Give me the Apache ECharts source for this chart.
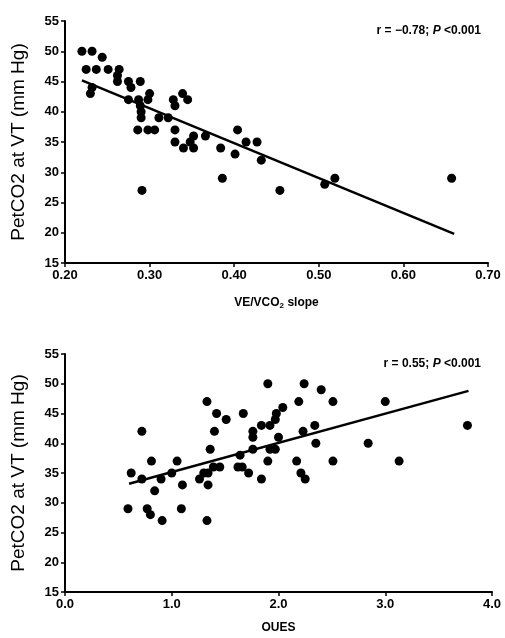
<!DOCTYPE html>
<html>
<head>
<meta charset="utf-8">
<script src="https://cdn.jsdelivr.net/npm/echarts@6/dist/echarts.min.js"></script>
<style>
html, body { margin: 0; background: #fff; }
#main { width: 505px; height: 638px; }
</style>
</head>
<body>
<div id="main"></div>
<script>
// top panel: PetCO2 at VT vs VE/VCO2 slope
var slopePts = [
    [0.220, 50], [0.232, 50], [0.244, 49], [0.225, 47], [0.237, 47], [0.251, 47],
    [0.264, 47], [0.262, 46], [0.262, 45], [0.275, 45], [0.289, 45], [0.278, 44],
    [0.232, 44], [0.230, 43], [0.275, 42], [0.287, 42], [0.300, 43], [0.298, 42],
    [0.289, 41], [0.290, 40], [0.290, 39], [0.328, 42], [0.339, 43], [0.345, 42],
    [0.330, 41], [0.311, 39], [0.322, 39], [0.286, 37], [0.298, 37], [0.306, 37],
    [0.330, 37], [0.330, 35], [0.340, 34], [0.352, 36], [0.352, 34], [0.348, 35],
    [0.366, 36], [0.384, 34], [0.404, 37], [0.414, 35], [0.401, 33], [0.427, 35],
    [0.432, 32], [0.386, 29], [0.291, 27], [0.454, 27], [0.507, 28], [0.519, 29],
    [0.657, 29]
];
var slopeFitX = [0.22, 0.66];
var slopeFitY = [45.2, 19.8];

// bottom panel: PetCO2 at VT vs OUES
var ouesPts = [
    [0.59, 29], [0.62, 35], [0.72, 42], [0.72, 34], [0.77, 29], [0.80, 28],
    [0.81, 37], [0.84, 32], [0.90, 34], [0.91, 27], [1.00, 35], [1.05, 37],
    [1.09, 29], [1.10, 33], [1.26, 34], [1.30, 35], [1.33, 47], [1.33, 27],
    [1.34, 33], [1.34, 35], [1.36, 39], [1.39, 36], [1.40, 42], [1.42, 45],
    [1.45, 36], [1.51, 44], [1.62, 36], [1.64, 38], [1.66, 36], [1.67, 45],
    [1.72, 35], [1.76, 42], [1.76, 41], [1.76, 39], [1.84, 43], [1.84, 34],
    [1.90, 50], [1.90, 37], [1.92, 43], [1.92, 39], [1.97, 44], [1.97, 39],
    [1.98, 45], [2.00, 41], [2.04, 46], [2.17, 37], [2.19, 47], [2.21, 35],
    [2.23, 42], [2.24, 50], [2.25, 34], [2.34, 43], [2.35, 40], [2.40, 49],
    [2.51, 47], [2.51, 37], [2.84, 40], [3.00, 47], [3.13, 37], [3.77, 43]
];
var ouesFitX = [0.60, 3.78];
var ouesFitY = [33.2, 48.8];

var FONT = "'Liberation Sans', Arial, sans-serif";

function fitLine(xs, ys) {
    return xs.map(function (x, i) { return [x, ys[i]]; });
}

var noteRich = {
    n: { fontFamily: FONT, fontSize: 12, fontWeight: 'bold', color: '#000' },
    i: { fontFamily: FONT, fontSize: 12, fontWeight: 'bold', fontStyle: 'italic', color: '#000' }
};

function yAxisFor(idx) {
    return {
        gridIndex: idx,
        type: 'value',
        min: 15,
        max: 55,
        interval: 5,
        name: 'PetCO2 at VT (mm Hg)',
        nameLocation: 'middle',
        nameGap: 37,
        nameTextStyle: { fontFamily: FONT, fontSize: 19, color: '#000' },
        axisLine: { show: true, lineStyle: { color: '#000', width: 2 } },
        axisTick: { show: true, length: 4, lineStyle: { color: '#000', width: 1.5 } },
        axisLabel: { margin: 6, fontFamily: FONT, fontSize: 13, fontWeight: 'bold', color: '#000' },
        splitLine: { show: false }
    };
}

var chart = echarts.init(document.getElementById('main'), null, { renderer: 'canvas' });

var option = {
    backgroundColor: '#fff',
    animation: false,
    title: [{
        text: '{n|r = \u22120.78; }{i|P}{n| <0.001}',
        right: 19,
        top: 20,
        textStyle: { rich: noteRich }
    }, {
        text: '{n|r = 0.55; }{i|P}{n| <0.001}',
        right: 19,
        top: 353,
        textStyle: { rich: noteRich }
    }],
    grid: [
        { left: 65, right: 17, top: 21, height: 242 },
        { left: 65, right: 13, top: 354, height: 238 }
    ],
    xAxis: [{
        gridIndex: 0,
        type: 'value',
        min: 0.2,
        max: 0.7,
        interval: 0.1,
        name: '{a|VE/VCO}{s|2}{a| slope}',
        nameLocation: 'middle',
        nameGap: 33,
        nameTextStyle: {
            rich: {
                a: { fontFamily: FONT, fontSize: 12, fontWeight: 'bold', color: '#000' },
                s: { fontFamily: FONT, fontSize: 8, fontWeight: 'bold', color: '#000', padding: [6, 0, 0, 0] }
            }
        },
        axisLine: { show: true, onZero: false, lineStyle: { color: '#000', width: 2 } },
        axisTick: { show: true, length: 4, lineStyle: { color: '#000', width: 1.5 } },
        axisLabel: {
            margin: 6, fontFamily: FONT, fontSize: 13, fontWeight: 'bold', color: '#000',
            formatter: function (v) { return v.toFixed(2); }
        },
        splitLine: { show: false }
    }, {
        gridIndex: 1,
        type: 'value',
        min: 0,
        max: 4,
        interval: 1,
        name: 'OUES',
        nameLocation: 'middle',
        nameGap: 30,
        nameTextStyle: { fontFamily: FONT, fontSize: 12, fontWeight: 'bold', color: '#000' },
        axisLine: { show: true, onZero: false, lineStyle: { color: '#000', width: 2 } },
        axisTick: { show: true, length: 4, lineStyle: { color: '#000', width: 1.5 } },
        axisLabel: {
            margin: 6, fontFamily: FONT, fontSize: 13, fontWeight: 'bold', color: '#000',
            formatter: function (v) { return v.toFixed(1); }
        },
        splitLine: { show: false }
    }],
    yAxis: [yAxisFor(0), yAxisFor(1)],
    series: [{
        type: 'scatter',
        xAxisIndex: 0,
        yAxisIndex: 0,
        symbolSize: 9,
        itemStyle: { color: '#000', opacity: 1 },
        data: slopePts
    }, {
        type: 'line',
        xAxisIndex: 0,
        yAxisIndex: 0,
        symbol: 'none',
        lineStyle: { color: '#000', width: 2.5 },
        data: fitLine(slopeFitX, slopeFitY)
    }, {
        type: 'scatter',
        xAxisIndex: 1,
        yAxisIndex: 1,
        symbolSize: 9,
        itemStyle: { color: '#000', opacity: 1 },
        data: ouesPts
    }, {
        type: 'line',
        xAxisIndex: 1,
        yAxisIndex: 1,
        symbol: 'none',
        lineStyle: { color: '#000', width: 2.5 },
        data: fitLine(ouesFitX, ouesFitY)
    }]
};

chart.setOption(option);
</script>
</body>
</html>
